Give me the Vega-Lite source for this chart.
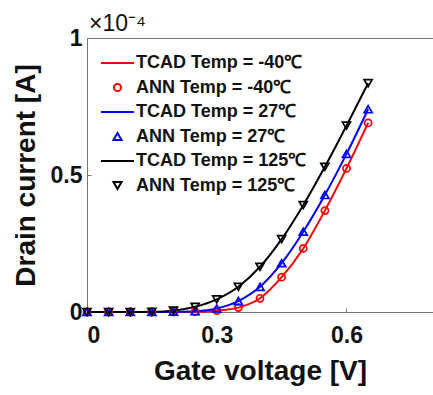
{
  "$schema": "https://vega.github.io/schema/vega-lite/v6.json",
  "autosize": "none",
  "width": 346,
  "height": 274,
  "padding": {"left": 87, "top": 38, "right": 0, "bottom": 83},
  "background": "white",
  "config": {
    "font": "Liberation Sans",
    "view": {"stroke": "#777", "strokeWidth": 1},
    "axis": {"grid": false, "domainColor": "#777", "tickColor": "#777", "labelFont": "Liberation Sans", "labelFontWeight": "bold", "labelFontSize": 23, "labelColor": "#111", "titleFont": "Liberation Sans", "titleFontWeight": "bold", "titleColor": "#111", "titleFontSize": 28}
  },
  "title": {"text": "×10⁻⁴", "anchor": "start", "frame": "group", "fontSize": 23, "fontWeight": "normal", "font": "Liberation Sans", "color": "#111", "offset": -9, "dx": 2},
  "data": {"values": [
    {"series": "TCAD Temp = -40℃", "vg": 0, "id": 0}, {"series": "TCAD Temp = -40℃", "vg": 0.05, "id": 0}, {"series": "TCAD Temp = -40℃", "vg": 0.1, "id": 0}, {"series": "TCAD Temp = -40℃", "vg": 0.15, "id": 0}, {"series": "TCAD Temp = -40℃", "vg": 0.2, "id": 0}, {"series": "TCAD Temp = -40℃", "vg": 0.25, "id": 0.001}, {"series": "TCAD Temp = -40℃", "vg": 0.3, "id": 0.005}, {"series": "TCAD Temp = -40℃", "vg": 0.35, "id": 0.016}, {"series": "TCAD Temp = -40℃", "vg": 0.4, "id": 0.05}, {"series": "TCAD Temp = -40℃", "vg": 0.45, "id": 0.127}, {"series": "TCAD Temp = -40℃", "vg": 0.5, "id": 0.232}, {"series": "TCAD Temp = -40℃", "vg": 0.55, "id": 0.37}, {"series": "TCAD Temp = -40℃", "vg": 0.6, "id": 0.524}, {"series": "TCAD Temp = -40℃", "vg": 0.65, "id": 0.69},
    {"series": "ANN Temp = -40℃", "vg": 0, "id": 0}, {"series": "ANN Temp = -40℃", "vg": 0.05, "id": 0}, {"series": "ANN Temp = -40℃", "vg": 0.1, "id": 0}, {"series": "ANN Temp = -40℃", "vg": 0.15, "id": 0}, {"series": "ANN Temp = -40℃", "vg": 0.2, "id": 0}, {"series": "ANN Temp = -40℃", "vg": 0.25, "id": 0.001}, {"series": "ANN Temp = -40℃", "vg": 0.3, "id": 0.005}, {"series": "ANN Temp = -40℃", "vg": 0.35, "id": 0.016}, {"series": "ANN Temp = -40℃", "vg": 0.4, "id": 0.05}, {"series": "ANN Temp = -40℃", "vg": 0.45, "id": 0.127}, {"series": "ANN Temp = -40℃", "vg": 0.5, "id": 0.232}, {"series": "ANN Temp = -40℃", "vg": 0.55, "id": 0.37}, {"series": "ANN Temp = -40℃", "vg": 0.6, "id": 0.524}, {"series": "ANN Temp = -40℃", "vg": 0.65, "id": 0.69},
    {"series": "TCAD Temp = 27℃", "vg": 0, "id": 0}, {"series": "TCAD Temp = 27℃", "vg": 0.05, "id": 0}, {"series": "TCAD Temp = 27℃", "vg": 0.1, "id": 0}, {"series": "TCAD Temp = 27℃", "vg": 0.15, "id": 0}, {"series": "TCAD Temp = 27℃", "vg": 0.2, "id": 0.001}, {"series": "TCAD Temp = 27℃", "vg": 0.25, "id": 0.003}, {"series": "TCAD Temp = 27℃", "vg": 0.3, "id": 0.013}, {"series": "TCAD Temp = 27℃", "vg": 0.35, "id": 0.04}, {"series": "TCAD Temp = 27℃", "vg": 0.4, "id": 0.092}, {"series": "TCAD Temp = 27℃", "vg": 0.45, "id": 0.178}, {"series": "TCAD Temp = 27℃", "vg": 0.5, "id": 0.293}, {"series": "TCAD Temp = 27℃", "vg": 0.55, "id": 0.427}, {"series": "TCAD Temp = 27℃", "vg": 0.6, "id": 0.577}, {"series": "TCAD Temp = 27℃", "vg": 0.65, "id": 0.74},
    {"series": "ANN Temp = 27℃", "vg": 0, "id": 0}, {"series": "ANN Temp = 27℃", "vg": 0.05, "id": 0}, {"series": "ANN Temp = 27℃", "vg": 0.1, "id": 0}, {"series": "ANN Temp = 27℃", "vg": 0.15, "id": 0}, {"series": "ANN Temp = 27℃", "vg": 0.2, "id": 0.001}, {"series": "ANN Temp = 27℃", "vg": 0.25, "id": 0.003}, {"series": "ANN Temp = 27℃", "vg": 0.3, "id": 0.013}, {"series": "ANN Temp = 27℃", "vg": 0.35, "id": 0.04}, {"series": "ANN Temp = 27℃", "vg": 0.4, "id": 0.092}, {"series": "ANN Temp = 27℃", "vg": 0.45, "id": 0.178}, {"series": "ANN Temp = 27℃", "vg": 0.5, "id": 0.293}, {"series": "ANN Temp = 27℃", "vg": 0.55, "id": 0.427}, {"series": "ANN Temp = 27℃", "vg": 0.6, "id": 0.577}, {"series": "ANN Temp = 27℃", "vg": 0.65, "id": 0.74},
    {"series": "TCAD Temp = 125℃", "vg": 0, "id": 0}, {"series": "TCAD Temp = 125℃", "vg": 0.05, "id": 0}, {"series": "TCAD Temp = 125℃", "vg": 0.1, "id": 0}, {"series": "TCAD Temp = 125℃", "vg": 0.15, "id": 0.001}, {"series": "TCAD Temp = 125℃", "vg": 0.2, "id": 0.005}, {"series": "TCAD Temp = 125℃", "vg": 0.25, "id": 0.019}, {"series": "TCAD Temp = 125℃", "vg": 0.3, "id": 0.046}, {"series": "TCAD Temp = 125℃", "vg": 0.35, "id": 0.092}, {"series": "TCAD Temp = 125℃", "vg": 0.4, "id": 0.165}, {"series": "TCAD Temp = 125℃", "vg": 0.45, "id": 0.266}, {"series": "TCAD Temp = 125℃", "vg": 0.5, "id": 0.39}, {"series": "TCAD Temp = 125℃", "vg": 0.55, "id": 0.53}, {"series": "TCAD Temp = 125℃", "vg": 0.6, "id": 0.68}, {"series": "TCAD Temp = 125℃", "vg": 0.65, "id": 0.835},
    {"series": "ANN Temp = 125℃", "vg": 0, "id": 0}, {"series": "ANN Temp = 125℃", "vg": 0.05, "id": 0}, {"series": "ANN Temp = 125℃", "vg": 0.1, "id": 0}, {"series": "ANN Temp = 125℃", "vg": 0.15, "id": 0.001}, {"series": "ANN Temp = 125℃", "vg": 0.2, "id": 0.005}, {"series": "ANN Temp = 125℃", "vg": 0.25, "id": 0.019}, {"series": "ANN Temp = 125℃", "vg": 0.3, "id": 0.046}, {"series": "ANN Temp = 125℃", "vg": 0.35, "id": 0.092}, {"series": "ANN Temp = 125℃", "vg": 0.4, "id": 0.165}, {"series": "ANN Temp = 125℃", "vg": 0.45, "id": 0.266}, {"series": "ANN Temp = 125℃", "vg": 0.5, "id": 0.39}, {"series": "ANN Temp = 125℃", "vg": 0.55, "id": 0.53}, {"series": "ANN Temp = 125℃", "vg": 0.6, "id": 0.68}, {"series": "ANN Temp = 125℃", "vg": 0.65, "id": 0.835}
  ]},
  "encoding": {
    "x": {"field": "vg", "type": "quantitative", "scale": {"domain": [0, 0.8], "nice": false, "zero": false}, "axis": {"title": "Gate voltage [V]", "values": [0, 0.3, 0.6], "format": "~g", "tickSize": -4, "labelPadding": 16, "titlePadding": 10}},
    "y": {"field": "id", "type": "quantitative", "scale": {"domain": [0, 1], "nice": false}, "axis": {"title": "Drain current [A]", "values": [0, 0.5, 1], "format": "~g", "tickSize": -4, "labelPadding": 9, "titlePadding": 10}},
    "color": {"field": "series", "type": "nominal", "scale": {"domain": ["TCAD Temp = -40℃", "ANN Temp = -40℃", "TCAD Temp = 27℃", "ANN Temp = 27℃", "TCAD Temp = 125℃", "ANN Temp = 125℃"], "range": ["#ff0000", "#ff0000", "#0000ff", "#0000ff", "#000000", "#000000"]},
      "legend": {"title": null, "orient": "none", "legendX": 13, "legendY": 15, "padding": 0, "clipHeight": 20, "rowPadding": 4.5, "labelFontSize": 18, "labelFontWeight": "bold", "labelFont": "Liberation Sans", "labelColor": "#111", "labelOffset": 1, "labelLimit": 400, "symbolStrokeWidth": 2}
    }
  },
  "layer": [
    {"transform": [{"filter": "indexof(datum.series, 'TCAD') === 0"}], "mark": {"type": "line", "strokeWidth": 2, "interpolate": "monotone"}},
    {"transform": [{"filter": "indexof(datum.series, 'ANN') === 0"}], "mark": {"type": "point", "filled": false, "strokeWidth": 1.7, "opacity": 1},
      "encoding": {
        "shape": {"field": "series", "type": "nominal", "scale": {"domain": ["TCAD Temp = -40℃", "ANN Temp = -40℃", "TCAD Temp = 27℃", "ANN Temp = 27℃", "TCAD Temp = 125℃", "ANN Temp = 125℃"], "range": ["stroke", "circle", "stroke", "triangle-up", "stroke", "triangle-down"]}},
        "size": {"field": "series", "type": "nominal", "scale": {"type": "ordinal", "domain": ["TCAD Temp = -40℃", "ANN Temp = -40℃", "TCAD Temp = 27℃", "ANN Temp = 27℃", "TCAD Temp = 125℃", "ANN Temp = 125℃"], "range": [1089, 50, 1089, 65, 1089, 65]}}
      }}
  ]
}
